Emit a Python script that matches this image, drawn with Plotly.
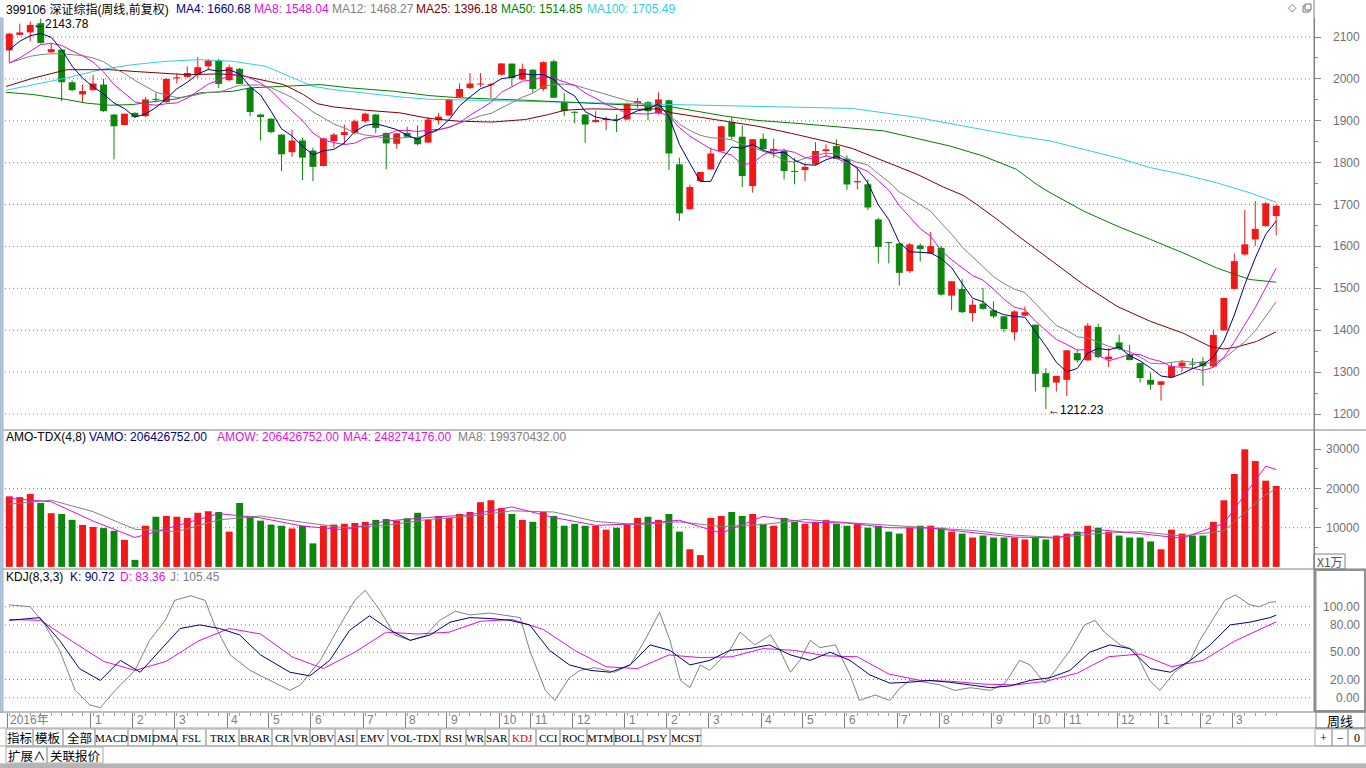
import plotly.graph_objects as go

W, H = 1366, 768

# ---------------- data ----------------
opens = [2068, 2105, 2111, 2133, 2063.5, 2070, 1992, 1963, 1973, 1986.5,
         1915, 1890, 1919, 1911, 1951.5, 1944.4, 2001, 2004.7, 2010, 2030,
         2044, 1997, 2024, 1978.5, 1915, 1905, 1867, 1825, 1853, 1829,
         1792, 1851.5, 1866, 1871, 1899, 1915, 1871, 1845, 1871, 1861,
         1848, 1901.5, 1912.7, 1957, 1978, 1986.5, 1985, 2010, 2036.5, 1998.4,
         2022, 1976, 2042, 1944.4, 1921.4, 1915, 1896.8, 1901.5, 1904.7, 1903,
         1941.2, 1944.4, 1917.4, 1949, 1796, 1689, 1756, 1784, 1827.7, 1896.8,
         1862, 1744, 1857, 1827.7, 1827.7, 1780, 1782.4, 1796, 1827.7, 1839.6,
         1809.4, 1753, 1748.4, 1664.6, 1610.5, 1607, 1541, 1602.4, 1583, 1596.8,
         1482.6, 1498.6, 1441, 1463.5, 1447.5, 1433.2, 1395, 1434.8, 1413.2, 1297.5,
         1275, 1281.5, 1345.4, 1328, 1407.6, 1331, 1371, 1341.4, 1321.4, 1281.6,
         1269.6, 1288, 1313.5, 1320, 1325.4, 1313.5, 1399.6, 1498.6, 1580.8, 1616.7,
         1648.6, 1672.6]
highs = [2110, 2132, 2137, 2143.78, 2086, 2071, 1996, 1986.5, 2010, 2000,
         1916, 1917, 1920, 1957, 1966.6, 2001, 2014, 2030, 2052, 2048,
         2048, 2034, 2026, 1980, 1916, 1906, 1868, 1879, 1859.5, 1836,
         1859.5, 1871, 1891, 1903, 1919, 1916.6, 1872, 1871, 1885.6, 1889,
         1909.5, 1919, 1953, 1989, 2014, 2014, 1990.5, 2037, 2037, 2036.5,
         2024, 2042, 2046, 1966.6, 1923, 1915, 1923, 1909.5, 1915, 1944.4,
         1954.7, 1946.8, 1968, 1951, 1812, 1748, 1778, 1835.6, 1888, 1909.5,
         1889, 1856, 1870, 1857, 1833.3, 1811.8, 1798.3, 1849, 1843.6, 1855.5,
         1817.4, 1788, 1760.4, 1668.6, 1611, 1608, 1608.7, 1607, 1634.3, 1600.8,
         1517, 1522.5, 1473, 1501, 1469, 1433.2, 1447.5, 1457, 1413.5, 1309.5,
         1291, 1352, 1353.4, 1417.2, 1415.6, 1357.4, 1389.3, 1365.3, 1321.5, 1299,
         1278, 1321.4, 1329.4, 1333.4, 1335.8, 1401.3, 1477.5, 1583, 1686.9, 1708.5,
         1706, 1700.5]
lows = [2040, 2104, 2090, 2084, 2062, 1947, 1970, 1944, 1972, 1920.6,
        1808, 1889, 1907, 1908.7, 1944.4, 1943, 1989, 2003, 2002, 2022,
        1978.5, 1994, 1988, 1911, 1853, 1870, 1780, 1814, 1758.6, 1756,
        1791, 1835.6, 1843.5, 1867, 1895, 1871, 1784, 1833, 1859.5, 1841,
        1847, 1891, 1911, 1954.7, 1976, 1981, 1955, 2008, 1982.5, 1996.8,
        1966.7, 1970.6, 1954, 1911, 1893.6, 1847.6, 1896, 1877.7, 1873, 1902,
        1931, 1901.5, 1915, 1782.4, 1661, 1688, 1755, 1783, 1826, 1855.5,
        1742, 1728.5, 1830, 1811.8, 1760, 1748.3, 1756.2, 1793.6, 1814, 1808,
        1735, 1736, 1687, 1559.3, 1559.3, 1506.6, 1537, 1564, 1582, 1482.6,
        1447.5, 1441, 1421.2, 1449, 1429, 1395, 1375.7, 1434, 1253.6, 1212.23,
        1253.6, 1243.3, 1323, 1327, 1333.4, 1311.8, 1351.8, 1327.9, 1275.2, 1257.6,
        1232, 1285.5, 1301.5, 1307, 1267.2, 1312, 1399, 1497, 1578.4, 1600.8,
        1647, 1626.3]
closes = [2108, 2111, 2129, 2086, 2071, 1992, 1973, 1971, 1989, 1923,
          1887, 1917, 1909, 1951, 1950, 2000, 2004, 2014, 2028, 2044,
          1988, 2028, 1988, 1921, 1909, 1873, 1820, 1853, 1812, 1790,
          1858, 1867, 1873, 1899, 1917, 1883, 1846, 1870, 1862, 1844,
          1903, 1910, 1952, 1976, 1989, 1989, 1987, 2037, 2002, 2024,
          1976, 2040, 1955, 1923, 1919, 1891, 1902, 1905, 1902, 1941,
          1947, 1923, 1951, 1822, 1679, 1742, 1778, 1822, 1887, 1862,
          1768, 1856, 1832, 1833, 1780, 1778, 1790, 1828, 1832, 1809,
          1748, 1756, 1693, 1599, 1608, 1537, 1605, 1594, 1601, 1485,
          1517, 1443, 1461, 1451, 1433, 1403, 1445, 1443, 1296, 1264,
          1291, 1352, 1328, 1411, 1336, 1337, 1355, 1329, 1286, 1270,
          1278, 1314, 1323, 1318, 1314, 1389, 1477, 1565, 1605, 1642,
          1703, 1697]

ma4 = [2070, 2090, 2103, 2108.5, 2099.3, 2069.5, 2030.5, 2001.8, 1981.3, 1964,
       1942.5, 1929, 1909, 1916, 1931.8, 1952.5, 1976.3, 1992, 2011.5, 2022.5,
       2018.5, 2022, 2012, 1981.3, 1961.5, 1922.8, 1880.8, 1863.8, 1839.5, 1818.8,
       1828.3, 1831.8, 1847, 1874.3, 1889, 1893, 1886.3, 1879, 1865.3, 1855.5,
       1869.8, 1879.8, 1902.3, 1935.3, 1956.8, 1976.5, 1985.3, 2000.5, 2003.8, 2012.5,
       2009.8, 2010.5, 1998.8, 1973.5, 1959.3, 1922, 1908.8, 1904.3, 1900, 1912.5,
       1923.8, 1928.3, 1940.5, 1910.8, 1843.8, 1798.5, 1755.3, 1755.3, 1807.3, 1837.3,
       1834.8, 1843.3, 1829.5, 1822.3, 1825.3, 1805.8, 1795.3, 1794, 1807, 1814.8,
       1804.3, 1786.3, 1751.5, 1699, 1664, 1609.3, 1587.3, 1586, 1584.3, 1571.3,
       1549.3, 1511.5, 1476.5, 1468, 1447, 1437, 1433, 1431, 1396.8, 1362,
       1323.5, 1300.8, 1308.8, 1345.5, 1356.8, 1353, 1359.8, 1339.3, 1326.8, 1310,
       1290.8, 1287, 1296.3, 1308.3, 1317.3, 1336, 1374.5, 1436.3, 1509, 1572.3,
       1628.8, 1660.68]
ma8 = [2038, 2050, 2066, 2082, 2085, 2080, 2067, 2055.2, 2040.3, 2016.8,
       1986.5, 1965.4, 1945.2, 1940, 1937.2, 1940.8, 1942.7, 1954, 1971.7, 1987.5,
       1997.4, 2007, 2011.8, 2001.9, 1990, 1972.4, 1946.4, 1922.6, 1900.5, 1870.8,
       1854.6, 1847.8, 1843.3, 1846.6, 1858.7, 1862.4, 1866.7, 1876.7, 1877.2, 1874.3,
       1878.1, 1879.4, 1883.8, 1895.4, 1913.3, 1928.2, 1943.8, 1967.9, 1980.3, 1994.5,
       1997.6, 2005.5, 2001.3, 1993, 1984.6, 1966.3, 1953.8, 1938.9, 1929.7, 1917.3,
       1916.3, 1916.3, 1920.3, 1911.7, 1883.8, 1863.4, 1847.9, 1833.1, 1825.6, 1817.9,
       1795, 1799.3, 1818.4, 1829.8, 1830, 1824.6, 1812.4, 1808.2, 1816.2, 1810.3,
       1799.8, 1790.2, 1779.3, 1756.9, 1734.2, 1697.8, 1669.4, 1642.5, 1624.2, 1590.3,
       1568.3, 1548.8, 1530.4, 1519.7, 1498.2, 1474.3, 1454.8, 1449.5, 1421.9, 1399.5,
       1378.3, 1365.9, 1352.8, 1353.8, 1340.2, 1326.9, 1334.3, 1342.4, 1341.8, 1331.5,
       1325.3, 1313.2, 1311.6, 1309.2, 1304, 1311.5, 1335.4, 1372.3, 1413.2, 1454.2,
       1501.7, 1548.04]
ma12 = [2038, 2046, 2054, 2058, 2060, 2060, 2058, 2055.5, 2050, 2041,
        2025, 2013.1, 1996.5, 1983.2, 1968.3, 1961.1, 1955.5, 1957.3, 1961.9, 1968,
        1967.9, 1976.7, 1985.1, 1985.4, 1985.4, 1978.9, 1968.1, 1955.9, 1939.8, 1921.2,
        1907, 1892.3, 1882.7, 1872, 1866, 1862.9, 1857.6, 1857.4, 1860.9, 1860.1,
        1867.7, 1877.7, 1885.5, 1894.6, 1904.3, 1911.8, 1917.6, 1930.4, 1943.5, 1956.3,
        1965.8, 1982.1, 1986.5, 1987.5, 1984.8, 1977.7, 1970.5, 1963.4, 1956.4, 1948.3,
        1943.8, 1935.4, 1933.3, 1915.1, 1892.1, 1877, 1865.3, 1859.5, 1858.3, 1854.7,
        1843.5, 1836.5, 1826.9, 1819.4, 1805.1, 1801.5, 1810.7, 1817.9, 1822.4, 1821.3,
        1809.7, 1800.9, 1794.6, 1773.2, 1754.5, 1729.9, 1715.3, 1699.9, 1684.2, 1655.6,
        1629.4, 1598.8, 1574.9, 1549.5, 1527.9, 1511.5, 1497.9, 1490.1, 1464.4, 1436.8,
        1411, 1399.9, 1384.2, 1381.5, 1371.1, 1361.6, 1355.1, 1348.9, 1335.7, 1321.3,
        1319.8, 1323.9, 1326.6, 1323.8, 1322.6, 1320.8, 1332.5, 1351.5, 1372.4, 1398.4,
        1433.2, 1468.27]

ma25_x = [-0.3, 2.3, 5.5, 9.6, 11.8, 15, 17, 20.1, 22, 26.2, 28.1, 29.4, 31, 34.1, 37.3,
          40, 42.9, 46.1, 49.3, 51.5, 53.1, 55.6, 58.8, 62, 63.3, 68.4, 71.5, 74.7, 77.9,
          80.5, 83.5, 86.7, 89.2, 91.1, 92.4, 94.6, 96.2, 99.4, 102.6, 105.8, 109, 112.1,
          114.7, 116, 117.2, 119.1, 121]
ma25_v = [1982, 2002, 2022, 2022, 2018, 2012.7, 2010, 2012, 2008.7, 1986.5, 1962.6, 1941, 1933, 1925, 1919,
          1906, 1899, 1897, 1903, 1915, 1925.4, 1928.5, 1927, 1928.5, 1919, 1899, 1887, 1870, 1851.5,
          1834, 1804.2, 1772.3, 1742, 1722, 1700, 1660, 1628, 1569, 1509, 1457, 1421, 1393,
          1361, 1355, 1359.8, 1373, 1396.18]
ma50_x = [-0.3, 2.3, 5.5, 7.4, 9.6, 11.8, 14.1, 16, 18.2, 21.4, 23, 27.1, 29.7, 32.5, 36.7,
          40.2, 43, 49.3, 58.8, 63.3, 68.4, 71.5, 74.7, 80.5, 83.5, 86.7, 89.8, 93, 96.2,
          98.1, 99.4, 102.6, 105.8, 109, 112.1, 115.3, 118.5, 121]
ma50_v = [1968, 1962.6, 1950.7, 1942, 1937.2, 1938.8, 1946.8, 1952.3, 1966.6, 1970.6, 1978.6, 1982.5, 1986.5, 1978.6, 1970.6,
          1960, 1955, 1949, 1939, 1933, 1911, 1900.8, 1895, 1882, 1876, 1857.7, 1840, 1816, 1784,
          1748.4, 1728.4, 1684.5, 1648.6, 1616.7, 1584.7, 1548.8, 1521, 1514.85]
ma100_x = [-0.3, 2.3, 5.5, 8.7, 11.8, 15, 18.2, 21.4, 24.5, 27.1, 29, 30.9, 34.1, 37.3, 40,
           49.3, 58.8, 65.1, 71.5, 80.5, 86.7, 93, 96.2, 99.4, 102.6, 105.8, 109, 112.1, 115.3,
           118.5, 121]
ma100_v = [1973, 1986.5, 2002.3, 2022, 2034, 2042, 2046, 2042, 2030, 2002.3, 1982.5, 1974.5, 1965, 1957, 1951.5,
           1946.8, 1941.2, 1938.9, 1934.9, 1929.5, 1908, 1880, 1864, 1852, 1832, 1812, 1788, 1772, 1752,
           1728, 1705.49]

# turnover amount, units of 1e4 (x1万)
volume = [18000, 17800, 18600, 16300, 13700, 13500, 12000, 10700, 10200, 9900,
          9200, 6900, 1800, 10500, 12800, 13000, 12800, 12500, 13800, 14200,
          14000, 9000, 16300, 12700, 11800, 10800, 10500, 9800, 10500, 6000,
          10500, 10800, 11000, 11200, 11500, 12000, 12200, 11800, 12400, 13800,
          12000, 13000, 12500, 13500, 14000, 16500, 17000, 15000, 13500, 12000,
          11500, 14000, 13000, 10500, 11000, 10500, 10500, 9500, 10000, 10800,
          12500, 12800, 12000, 13500, 9000, 4500, 3000, 12500, 13000, 14000,
          13000, 13500, 11000, 10500, 12500, 11500, 11000, 11500, 12000, 11000,
          10500, 11000, 10000, 10500, 9000, 8500, 10000, 10500, 10500, 10000,
          9000, 8500, 7500, 8000, 7500, 7500, 7500, 7000, 7500, 7000,
          8000, 8500, 9000, 10500, 10000, 9000, 8000, 7500, 7500, 6500,
          4500, 9500, 8500, 8000, 8000, 11500, 17000, 23700, 30000, 27000,
          22000, 20642.68]
vma4_x = [0, 4, 8, 12, 16, 20, 24, 28, 32, 36, 40, 44, 48, 52, 56, 60, 64, 68, 72, 76, 80,
          84, 88, 92, 96, 100, 104, 108, 112, 116, 120, 121]
vma4_v = [17500, 16600, 11700, 7500, 10500, 13600, 12500, 10400, 9500, 11700, 12600, 13300, 15300, 12600,
          10600, 11000, 11900, 8600, 12900, 11400, 11200, 10000, 9900, 8700, 7600, 7400, 9500, 8500,
          7300, 11100, 25700, 24827.42]
vma8_x = vma4_x
vma8_v = [16000, 17000, 14100, 9600, 9000, 12000, 13000, 11400, 10000, 10600, 12100, 12900, 14300, 14000,
          11600, 10800, 11500, 10300, 10800, 12100, 11300, 10600, 10000, 9300, 8100, 7500, 8500, 9000,
          7900, 9200, 18400, 19937.04]

k_x = [0, 2.9, 4.8, 6.7, 8.7, 10.6, 12.5, 14.4, 16.3, 18.2, 20.1, 22, 24, 26.8, 28.7, 30.6, 32.5,
       34.4, 36.4, 38.3, 40.2, 42.1, 44, 45.9, 47.8, 49.7, 51.6, 53.5, 55.5, 57.4, 59.3, 61.2, 63.1,
       65, 66.9, 68.8, 70.7, 72.6, 74.6, 76.5, 78.4, 80.3, 82.2, 84.1, 86, 87.9, 89.8, 91.8, 93.7,
       95.6, 97.5, 99.4, 101.3, 103.2, 105.1, 107, 109, 110.9, 112.8, 114.7, 116.6, 118.5, 120.4, 121]
k_v = [85, 88, 63, 32, 19, 41, 28, 52, 76, 80, 76, 69, 47, 28, 24, 41, 74,
       90, 74, 63, 69, 83, 88, 87, 85, 80, 52, 36, 30, 28, 36, 58, 52,
       36, 41, 52, 54, 58, 47, 41, 50, 41, 25, 16, 17, 19, 17, 14, 11,
       13, 19, 22, 30, 50, 58, 54, 32, 28, 41, 58, 80, 83, 88, 90.72]
d_x = [0, 3, 6, 9, 12, 15, 18, 21, 24, 27, 30, 33, 36, 39, 42, 45, 48, 51, 54, 57, 60, 63, 66,
       69, 72, 75, 78, 81, 84, 87, 90, 93, 96, 99, 102, 105, 108, 111, 114, 117, 120, 121]
d_v = [86, 85, 62, 40, 30, 40, 62, 76, 70, 45, 32, 50, 72, 70, 72, 84, 86, 75, 52, 34, 32, 47, 44,
       45, 54, 52, 46, 45, 26, 19, 18, 15, 14, 18, 27, 45, 48, 34, 41, 62, 78, 83.36]
j_x = [0, 2, 3.4, 4.8, 6.3, 7.7, 8.7, 10.1, 12, 13.4, 14.9, 15.8, 17.3, 18.7, 19.6, 21.1, 23, 24.9,
       26.8, 27.8, 29.7, 31.6, 33, 34, 35.4, 36.8, 38.3, 39.7, 41.1, 42.6, 44, 45.9, 47.8, 48.8,
       49.7, 51.2, 52.1, 53.5, 54.5, 55.9, 57.8, 59.3, 60.7, 62.1, 63.1, 64.1, 65, 66, 66.9, 67.9,
       68.8, 69.8, 71.2, 72.7, 73.6, 74.6, 75.5, 76.5, 77.4, 78.9, 80.3, 81.2, 82.7, 84.1, 85.1,
       86, 87.5, 88.9, 90.3, 91.8, 93.7, 95.1, 96.5, 97.5, 98.9, 99.9, 101.3, 102.7, 103.7, 104.6,
       106.1, 107.5, 108.9, 109.9, 111.3, 112.8, 113.7, 115.2, 116.1, 117.1, 118.5, 119.4, 120.4, 121]
j_v = [102, 100, 80, 52, 8, -8, -11, 8, 30, 63, 85, 107, 112, 107, 80, 47, 30, 19,
       8, 14, 41, 80, 107, 118, 96, 69, 63, 68, 85, 95, 91, 93, 90, 88,
       52, 8, -3, 22, 30, 33, 28, 36, 63, 94, 63, 19, 11, 36, 30, 41,
       52, 72, 58, 69, 52, 28, 41, 63, 55, 58, 25, -3, 3, -3, 11,
       19, 17, 14, 8, 11, 8, 16, 41, 36, 16, 30, 52, 80, 85, 72,
       58, 52, 19, 8, 28, 41, 63, 91, 107, 113, 102, 100, 105, 105.45]

month_pos = [0, 8, 12, 16, 21, 25, 29, 34, 38, 42, 47, 50, 54, 59, 63, 67, 72, 76, 80, 85, 89,
             94, 98, 101, 106, 110, 114, 117]
month_txt = ["2016年", "1", "2", "3", "4", "5", "6", "7", "8", "9", "10", "11", "12", "1", "2",
             "3", "4", "5", "6", "7", "8", "9", "10", "11", "12", "1", "2", "3"]

price_ticks = [1200, 1300, 1400, 1500, 1600, 1700, 1800, 1900, 2000, 2100]
vol_ticks = [10000, 20000, 30000]
kdj_ticks = [0, 20, 50, 80, 100]

tabs = ["指标", "模板", "全部", "MACD", "DMI", "DMA", "FSL", "TRIX", "BRAR", "CR", "VR", "OBV",
        "ASI", "EMV", "VOL-TDX", "RSI", "WR", "SAR", "KDJ", "CCI", "ROC", "MTM", "BOLL", "PSY", "MCST"]
tab_edges = [6, 33, 63, 95, 128, 153, 177, 206, 239, 272, 292, 310, 335, 357, 388, 440, 466,
             485, 509, 536, 560, 587, 614, 643, 670, 701]

# ---------------- styling ----------------
RED = "#F01818"
GREEN = "#0C860C"
GRAY = "#808080"
NAVY = "#000080"
MAG = "#E010E0"
DKRED = "#800000"
MGREEN = "#008000"
CYAN = "#30D0E0"
FONT = "Liberation Sans, Noto Sans CJK SC, sans-serif"
CJK = "Noto Sans CJK SC, sans-serif"
TABFONT = "Liberation Sans Narrow, Liberation Serif, serif"

X0, X1 = 4, 1314
XR = [-0.506, 124.61]


def py(p):
    return 1 - p / H


def px(p):
    return p / W


fig = go.Figure()

n = len(closes)
idx = list(range(n))
up = [closes[i] >= opens[i] for i in idx]

# wicks
for flag, col in ((True, RED), (False, GREEN)):
    wx, wy = [], []
    for i in idx:
        if up[i] == flag:
            wx += [i, i, None]
            wy += [lows[i], highs[i], None]
    fig.add_trace(go.Scatter(x=wx, y=wy, mode="lines", line=dict(color=col, width=1),
                             hoverinfo="skip", xaxis="x", yaxis="y"))
# bodies
for flag, col in ((True, RED), (False, GREEN)):
    bx = [i for i in idx if up[i] == flag]
    bb = [min(opens[i], closes[i]) for i in bx]
    bh = [max(abs(closes[i] - opens[i]), 2.4) for i in bx]
    fig.add_trace(go.Bar(x=bx, y=bh, base=bb, width=0.66, marker=dict(color=col, line=dict(width=0)),
                         hoverinfo="skip", xaxis="x", yaxis="y"))

# moving averages
for xs, ys, col in ((ma100_x, ma100_v, CYAN), (ma50_x, ma50_v, MGREEN), (ma25_x, ma25_v, DKRED),
                    (idx, ma12, GRAY), (idx, ma8, MAG), (idx, ma4, NAVY)):
    fig.add_trace(go.Scatter(x=xs, y=ys, mode="lines", line=dict(color=col, width=1),
                             hoverinfo="skip", xaxis="x", yaxis="y"))

# volume
for flag, col in ((True, RED), (False, GREEN)):
    vx = [i for i in idx if up[i] == flag]
    fig.add_trace(go.Bar(x=vx, y=[volume[i] for i in vx], width=0.66,
                         marker=dict(color=col, line=dict(width=0)),
                         hoverinfo="skip", xaxis="x2", yaxis="y2"))
fig.add_trace(go.Scatter(x=vma8_x, y=vma8_v, mode="lines", line=dict(color=GRAY, width=1),
                         hoverinfo="skip", xaxis="x2", yaxis="y2"))
fig.add_trace(go.Scatter(x=vma4_x, y=vma4_v, mode="lines", line=dict(color=MAG, width=1),
                         hoverinfo="skip", xaxis="x2", yaxis="y2"))

# KDJ
fig.add_trace(go.Scatter(x=j_x, y=j_v, mode="lines", line=dict(color=GRAY, width=1),
                         hoverinfo="skip", xaxis="x3", yaxis="y3"))
fig.add_trace(go.Scatter(x=d_x, y=d_v, mode="lines", line=dict(color=MAG, width=1),
                         hoverinfo="skip", xaxis="x3", yaxis="y3"))
fig.add_trace(go.Scatter(x=k_x, y=k_v, mode="lines", line=dict(color=NAVY, width=1),
                         hoverinfo="skip", xaxis="x3", yaxis="y3"))

shapes = []
ann = []

DOT = "1px,3px"


def hline(yref, yv, x0=5, x1=1312, col=GRAY, dash=DOT):
    shapes.append(dict(type="line", xref="paper", yref=yref, x0=px(x0), x1=px(x1), y0=yv, y1=yv,
                       line=dict(color=col, width=1, dash=dash), layer="below"))


for v in price_ticks:
    hline("y", v)
for v in [10000, 20000]:
    hline("y2", v)
for v in kdj_ticks:
    hline("y3", v)


def pline(x0, y0, x1, y1, col=GRAY, w=1):
    shapes.append(dict(type="line", xref="paper", yref="paper", x0=px(x0), x1=px(x1),
                       y0=py(y0), y1=py(y1), line=dict(color=col, width=w), layer="above"))


def prect(x0, y0, x1, y1, col="#A0A0A0", fill="rgba(0,0,0,0)", w=1):
    shapes.append(dict(type="rect", xref="paper", yref="paper", x0=px(x0), x1=px(x1),
                       y0=py(y0), y1=py(y1), line=dict(color=col, width=w), fillcolor=fill,
                       layer="above"))


# panel separators and frame
pline(0, 430, 1366, 430)
pline(0, 569, 1366, 569)
pline(0, 712, 1366, 712)
pline(1314, 0, 1314, 712)
prect(0, 18, 3, 712, col="#9CB0CC", fill="#B8C8DE")
# KDJ right box
prect(1315.5, 570, 1365, 711, col="#909090", w=2)
# x1万 box
prect(1314, 554, 1345, 569, col="#808080")
ann.append(dict(text="X1万", x=px(1329.5), y=py(561.5), xref="paper", yref="paper", showarrow=False,
                font=dict(family=CJK, size=12, color="#505050"), xanchor="center", yanchor="middle"))

# tabs rows
pline(0, 728, 1366, 728, col="#A0A0A0")
pline(0, 746, 1366, 746, col="#A0A0A0")
pline(0, 764, 1366, 764, col="#A0A0A0")
shapes.append(dict(type="rect", xref="paper", yref="paper", x0=0, x1=1, y0=0, y1=py(764),
                   line=dict(width=0), fillcolor="#B4B4B4", layer="above"))
for k, t in enumerate(tabs):
    x0, x1 = tab_edges[k], tab_edges[k + 1]
    prect(x0, 729, x1, 746, col="#A8A8A8")
    is_cjk = k < 3
    ann.append(dict(text=t, x=px((x0 + x1) / 2), y=py(737.5), xref="paper", yref="paper",
                    showarrow=False, xanchor="center", yanchor="middle",
                    font=dict(family=CJK if is_cjk else TABFONT, size=12.5 if is_cjk else 11,
                              color="#E00000" if t == "KDJ" else "#000000")))
for t, x0, x1 in (("+", 1315, 1332), ("−", 1332, 1348), ("0", 1348, 1365)):
    prect(x0, 729, x1, 746, col="#A8A8A8")
    ann.append(dict(text=t, x=px((x0 + x1) / 2), y=py(737.5), xref="paper", yref="paper",
                    showarrow=False, xanchor="center", yanchor="middle",
                    font=dict(family="Liberation Serif", size=12, color="#000000")))
for t, x0, x1 in (("扩展∧", 6, 47), ("关联报价", 47, 103)):
    prect(x0, 747, x1, 763, col="#A8A8A8")
    ann.append(dict(text=t, x=px((x0 + x1) / 2), y=py(755), xref="paper", yref="paper",
                    showarrow=False, xanchor="center", yanchor="middle",
                    font=dict(family=CJK, size=12.5, color="#000000")))
# 周线 box
prect(1316, 712, 1365, 728, col="#808080")
ann.append(dict(text="周线", x=px(1340), y=py(720), xref="paper", yref="paper", showarrow=False,
                xanchor="center", yanchor="middle", font=dict(family=CJK, size=13, color="#000000")))

# top-right icons
ann.append(dict(text="◇", x=px(1292), y=py(8), xref="paper", yref="paper", showarrow=False,
                xanchor="center", yanchor="middle", font=dict(family="DejaVu Sans", size=11, color="#707070")))
prect(1303, 6, 1309, 12, col="#707070")
prect(1305, 4, 1311, 10, col="#707070", fill="#FFFFFF")

# right tick labels
for v in price_ticks:
    ann.append(dict(text=str(v), x=px(1362), y=v, xref="paper", yref="y", showarrow=False,
                    xanchor="right", yanchor="middle", font=dict(family=FONT, size=12, color="#707070")))
for v in vol_ticks:
    ann.append(dict(text=str(v), x=px(1362), y=v, xref="paper", yref="y2", showarrow=False,
                    xanchor="right", yanchor="middle", font=dict(family=FONT, size=12, color="#707070")))
for v in kdj_ticks:
    ann.append(dict(text="%.2f" % v, x=px(1362), y=v, xref="paper", yref="y3", showarrow=False,
                    xanchor="right", yanchor="middle", font=dict(family=FONT, size=12, color="#707070")))

# x labels
for p, t in zip(month_pos, month_txt):
    ann.append(dict(text=t, x=p, xref="x3", y=py(720), yref="paper", showarrow=False,
                    xanchor="left", yanchor="middle", xshift=-1 if p == 0 else 0,
                    font=dict(family=FONT, size=12, color="#808080")))


def head(items, ypx):
    for t, x, col in items:
        ann.append(dict(text=t, x=px(x), y=py(ypx), xref="paper", yref="paper", showarrow=False,
                        xanchor="left", yanchor="middle", font=dict(family=FONT, size=12, color=col)))


head([("399106 深证综指(周线,前复权)", 4, "#000000"), ("MA4: 1660.68", 174, NAVY),
      ("MA8: 1548.04", 252, MAG), ("MA12: 1468.27", 330, GRAY), ("MA25: 1396.18", 414, DKRED),
      ("MA50: 1514.85", 499, MGREEN), ("MA100: 1705.49", 585, CYAN)], 9)
head([("AMO-TDX(4,8)", 4, "#000000"), ("VAMO: 206426752.00", 87, NAVY),
      ("AMOW: 206426752.00", 215, MAG), ("MA4: 248274176.00", 341, MAG),
      ("MA8: 199370432.00", 456, GRAY)], 437)
head([("KDJ(8,3,3)", 4, "#000000"), ("K: 90.72", 68, NAVY), ("D: 83.36", 118, MAG),
      ("J: 105.45", 168, GRAY)], 577)

# high / low marks
ann.append(dict(text="←2143.78", x=2.1, xref="x", y=py(24), yref="paper", showarrow=False,
                xanchor="left", yanchor="middle", font=dict(family=FONT, size=12, color="#000000")))
ann.append(dict(text="←1212.23", x=99, xref="x", y=py(410), yref="paper", showarrow=False,
                xanchor="left", yanchor="middle", font=dict(family=FONT, size=12, color="#000000")))

xcommon = dict(domain=[px(X0), px(X1)], range=XR, showgrid=False, zeroline=False,
               showticklabels=False, fixedrange=True)
ycommon = dict(side="right", showgrid=False, zeroline=False, showticklabels=False, fixedrange=True,
               showline=True, linecolor=GRAY, linewidth=1, ticks="outside", tickcolor=GRAY, ticklen=6)

fig.update_layout(
    width=W, height=H, autosize=False,
    margin=dict(l=0, r=0, t=0, b=0),
    paper_bgcolor="#FFFFFF", plot_bgcolor="#FFFFFF",
    showlegend=False, barmode="overlay",
    xaxis=dict(anchor="y", **xcommon),
    xaxis2=dict(anchor="y2", **xcommon),
    xaxis3=dict(anchor="y3", ticks="outside", tickvals=[p - 0.2 for p in month_pos], ticklen=15,
                tickcolor=GRAY, showline=False,
                minor=dict(tickvals=idx, ticklen=3, ticks="outside", tickcolor="#A0A0A0"),
                **xcommon),
    yaxis=dict(domain=[py(430), py(18)], range=[1161.8, 2145.4], anchor="x", tickvals=price_ticks,
               minor=dict(tickvals=[v + 50 for v in price_ticks[:-1]], ticklen=3, ticks="outside",
                          tickcolor=GRAY),
               **ycommon),
    yaxis2=dict(domain=[py(569), py(430)], range=[-536, 34923], anchor="x2", tickvals=vol_ticks,
                minor=dict(tickvals=[5000, 15000, 25000], ticklen=3, ticks="outside", tickcolor=GRAY),
                **ycommon),
    yaxis3=dict(domain=[py(712), py(569)], range=[-15.71, 141.43], anchor="x3", tickvals=[],
                side="right", showgrid=False, zeroline=False, showticklabels=False, fixedrange=True,
                showline=True, linecolor=GRAY),
    shapes=shapes, annotations=ann,
    hovermode=False,
)

fig.write_html("out.html", config={"displayModeBar": False, "staticPlot": True},
               post_script="document.body.style.margin='0';document.body.style.overflow='hidden';")
